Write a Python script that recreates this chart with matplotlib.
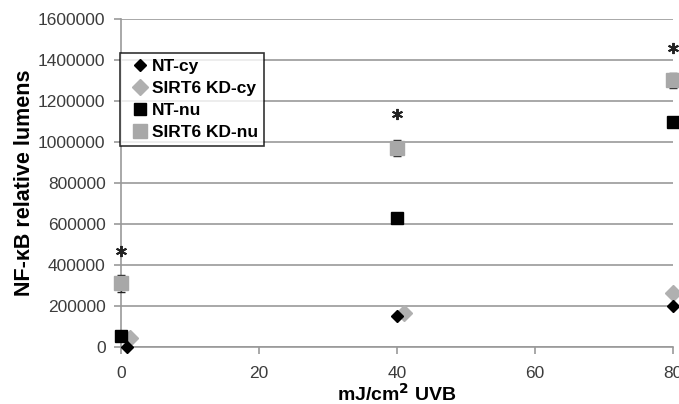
import matplotlib.pyplot as plt

plt.rcParams['font.family'] = ['Liberation Sans', 'DejaVu Sans']

# dose (mJ/cm2 UVB) and readings
nt_cy_x = [0.9, 40, 80]
nt_cy_y = [0, 150000, 200000]
kd_cy_x = [1.3, 41, 80]
kd_cy_y = [45000, 165000, 265000]
nt_nu_x = [0, 40, 80]
nt_nu_y = [55000, 630000, 1100000]
kd_nu_x = [0, 40, 80]
kd_nu_y = [310000, 970000, 1300000]
kd_nu_err = [42000, 40000, 35000]
star_x = [0, 40, 80]
star_y = [470000, 1135000, 1460000]

fig = plt.figure(figsize=(6.79, 4.04), dpi=100)
ax = fig.add_axes([0.178, 0.141, 0.813, 0.812])

grid = '#999999'
ax.set_xlim(0, 80)
ax.set_ylim(0, 1600000)
ax.set_yticks(range(0, 1600001, 200000))
ax.set_xticks([0, 20, 40, 60, 80])
ax.ticklabel_format(axis='y', style='plain', useOffset=False)
ax.yaxis.grid(True, color=grid, linewidth=1.2)
ax.set_axisbelow(True)
for s in ['top', 'right']:
    ax.spines[s].set_visible(False)
for s in ['left', 'bottom']:
    ax.spines[s].set_color(grid)
    ax.spines[s].set_linewidth(1.2)
ax.tick_params(axis='both', colors=grid, labelcolor='#3c3c3c', labelsize=12.5,
               length=5, width=1.2)
ax.tick_params(axis='x', pad=9)
ax.tick_params(axis='y', pad=6)

ax.errorbar(kd_nu_x, kd_nu_y, yerr=kd_nu_err, fmt='none', ecolor='#222222',
            elinewidth=1, capsize=3, clip_on=False, zorder=3)
ax.plot(nt_cy_x, nt_cy_y, 'D', color='black', ms=6.5, clip_on=False,
        zorder=5, label='NT-cy')
ax.plot(kd_cy_x, kd_cy_y, 'D', color='#b0b0b0', ms=8, clip_on=False,
        zorder=4, label='SIRT6 KD-cy')
ax.plot(nt_nu_x, nt_nu_y, 's', color='black', ms=9, clip_on=False,
        zorder=4, label='NT-nu')
ax.plot(kd_nu_x, kd_nu_y, 's', color='#a8a8a8', ms=10, clip_on=False,
        zorder=4, label='SIRT6 KD-nu')

# significance marks
ax.plot(star_x, star_y, linestyle='none', marker=(6, 2, 0), ms=8,
        mew=1.4, color='#222222', clip_on=False, zorder=4)

ax.set_ylabel('NF-κB relative lumens', fontsize=15.5, fontweight='bold',
              labelpad=2)
ax.set_xlabel('mJ/cm$^\\mathbf{2}$ UVB', fontsize=14, fontweight='bold',
              labelpad=1)

leg = ax.legend(loc='upper left', bbox_to_anchor=(-0.002, 0.897),
                prop={'weight': 'bold', 'size': 12.5},
                frameon=True, fancybox=False, edgecolor='black',
                borderaxespad=0, handlelength=1.6, handletextpad=-0.1,
                labelspacing=0.4, borderpad=0.35)
leg.get_frame().set_linewidth(1.2)

fig.savefig('out.png', dpi=100)
